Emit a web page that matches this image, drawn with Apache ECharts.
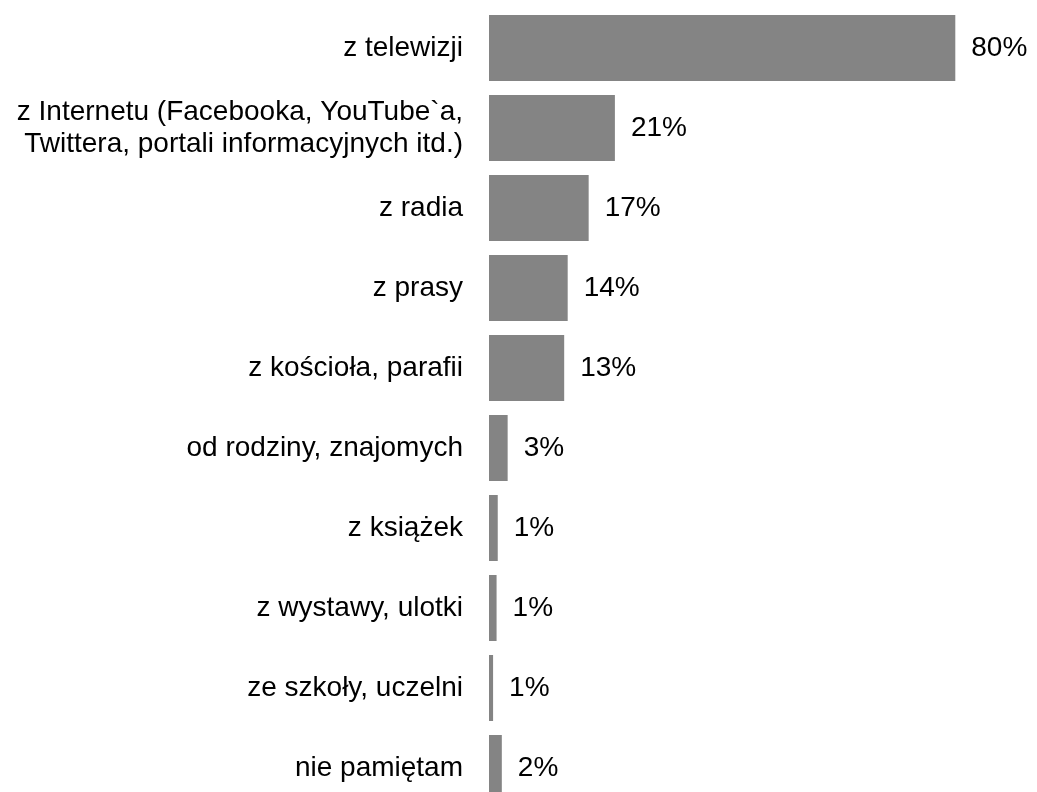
<!DOCTYPE html>
<html>
<head>
<meta charset="utf-8">
<script src="https://cdn.jsdelivr.net/npm/echarts@6/dist/echarts.min.js"></script>
<style>
html,body{margin:0;padding:0;background:#fff;overflow:hidden;}
#chart{width:1037px;height:792px;}
</style>
</head>
<body>
<div id="chart"></div>
<script>
var categories = [
  "z telewizji",
  "z Internetu (Facebooka, YouTube`a,\nTwittera, portali informacyjnych itd.)",
  "z radia",
  "z prasy",
  "z kościoła, parafii",
  "od rodziny, znajomych",
  "z książek",
  "z wystawy, ulotki",
  "ze szkoły, uczelni",
  "nie pamiętam"
];
var values = [80, 21.6, 17.1, 13.5, 12.9, 3.2, 1.5, 1.3, 0.7, 2.2];
var valueLabels = ["80%", "21%", "17%", "14%", "13%", "3%", "1%", "1%", "1%", "2%"];

var chart = echarts.init(document.getElementById('chart'), null, {renderer: 'canvas'});
chart.setOption({
  animation: false,
  backgroundColor: '#ffffff',
  grid: {left: 489, width: 466.3, top: 8, height: 800, containLabel: false, outerBoundsMode: 'none'},
  xAxis: {
    type: 'value', min: 0, max: 80,
    show: false
  },
  yAxis: {
    type: 'category',
    inverse: true,
    data: categories,
    axisLine: {show: false},
    axisTick: {show: false},
    splitLine: {show: false},
    axisLabel: {
      margin: 26,
      color: '#000000',
      fontFamily: 'Liberation Sans, Arial, sans-serif',
      fontSize: 28,
      lineHeight: 32,
      align: 'right'
    }
  },
  series: [{
    type: 'bar',
    data: values,
    barWidth: 66,
    itemStyle: {color: '#848484'},
    label: {
      show: true,
      position: 'right',
      distance: 16,
      color: '#000000',
      fontFamily: 'Liberation Sans, Arial, sans-serif',
      fontSize: 28,
      formatter: function (p) { return valueLabels[p.dataIndex]; }
    }
  }]
});
</script>
</body>
</html>
